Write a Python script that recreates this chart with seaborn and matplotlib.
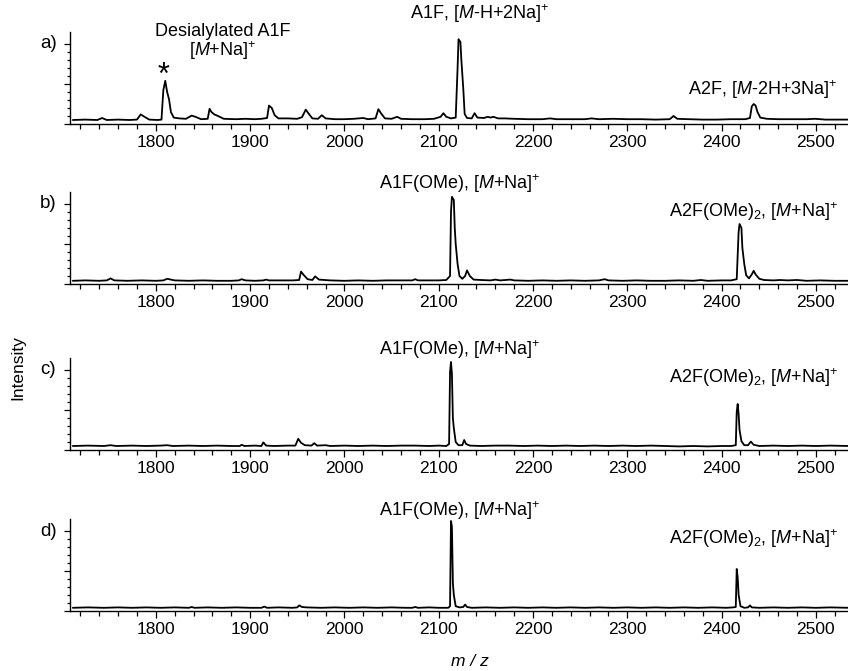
import seaborn as sns
import matplotlib.pyplot as plt
from matplotlib.ticker import MultipleLocator, FixedLocator

# a) native sample
a_mz = [1712, 1725, 1738, 1743, 1748, 1760, 1772, 1780, 1784, 1788, 1793, 1802,
        1806, 1808, 1810, 1812, 1814, 1816, 1819, 1825, 1832, 1838, 1842, 1848,
        1855, 1857, 1859, 1862, 1866, 1872, 1885, 1895, 1905, 1912, 1918, 1920,
        1923, 1926, 1930, 1940, 1950, 1955, 1959, 1962, 1966, 1972, 1976, 1980,
        1990, 2000, 2010, 2020, 2025, 2033, 2036, 2039, 2043, 2050, 2056, 2060,
        2072, 2085, 2095, 2102, 2105, 2108, 2113, 2118, 2120, 2121, 2123, 2124,
        2126, 2127.5, 2130, 2135, 2138, 2141, 2148, 2152, 2155, 2158, 2163, 2170,
        2180, 2195, 2210, 2218, 2225, 2240, 2255, 2262, 2270, 2285, 2300, 2315,
        2330, 2345, 2349, 2353, 2365, 2380, 2395, 2410, 2425, 2430, 2432, 2434,
        2436, 2438, 2441, 2448, 2460, 2475, 2490, 2499, 2510, 2525, 2535]
a_int = [0.10, 0.11, 0.10, 0.15, 0.10, 0.11, 0.10, 0.11, 0.24, 0.18, 0.11, 0.10,
         0.11, 0.85, 1.08, 0.80, 0.62, 0.30, 0.16, 0.14, 0.13, 0.21, 0.18, 0.12,
         0.13, 0.38, 0.30, 0.24, 0.20, 0.13, 0.12, 0.13, 0.12, 0.13, 0.15, 0.46,
         0.40, 0.22, 0.14, 0.14, 0.13, 0.17, 0.36, 0.26, 0.14, 0.13, 0.22, 0.14,
         0.12, 0.12, 0.13, 0.15, 0.12, 0.14, 0.37, 0.26, 0.14, 0.13, 0.18, 0.13,
         0.12, 0.12, 0.13, 0.18, 0.27, 0.18, 0.14, 0.16, 1.40, 2.12, 2.05, 1.60,
         0.90, 0.25, 0.15, 0.14, 0.27, 0.16, 0.15, 0.18, 0.16, 0.18, 0.14, 0.14,
         0.13, 0.12, 0.12, 0.14, 0.12, 0.12, 0.12, 0.14, 0.12, 0.13, 0.12, 0.12,
         0.11, 0.12, 0.20, 0.13, 0.12, 0.11, 0.11, 0.12, 0.12, 0.15, 0.44, 0.50,
         0.46, 0.30, 0.16, 0.13, 0.12, 0.12, 0.12, 0.13, 0.11, 0.11, 0.11]

# b) methyl esterified
b_mz = [1712, 1725, 1740, 1748, 1752, 1756, 1770, 1785, 1800, 1808, 1812, 1816,
        1820, 1835, 1850, 1865, 1880, 1888, 1891, 1895, 1905, 1914, 1917, 1920,
        1935, 1945, 1952, 1954, 1957, 1961, 1966, 1969, 1973, 1985, 2000, 2015,
        2030, 2045, 2060, 2072, 2075, 2078, 2090, 2100, 2108, 2112, 2113, 2114,
        2116, 2117, 2118, 2120, 2122, 2125, 2128, 2130, 2133, 2137, 2145, 2155,
        2160, 2165, 2176, 2180, 2195, 2210, 2225, 2240, 2255, 2270, 2276, 2280,
        2295, 2310, 2325, 2340, 2355, 2370, 2378, 2385, 2400, 2410, 2416, 2418,
        2419, 2421, 2422, 2424, 2426, 2429, 2432, 2434, 2436, 2440, 2445, 2455,
        2462, 2470, 2480, 2490, 2505, 2520, 2535]
b_int = [0.08, 0.09, 0.08, 0.09, 0.14, 0.09, 0.08, 0.09, 0.08, 0.09, 0.13, 0.11,
         0.09, 0.08, 0.09, 0.08, 0.08, 0.09, 0.12, 0.09, 0.08, 0.09, 0.11, 0.09,
         0.09, 0.09, 0.10, 0.31, 0.22, 0.12, 0.10, 0.19, 0.11, 0.09, 0.08, 0.09,
         0.08, 0.09, 0.09, 0.09, 0.12, 0.09, 0.09, 0.09, 0.10, 0.20, 1.80, 2.18,
         2.10, 1.40, 1.00, 0.50, 0.20, 0.13, 0.20, 0.34, 0.20, 0.11, 0.10, 0.09,
         0.11, 0.09, 0.11, 0.09, 0.08, 0.09, 0.08, 0.09, 0.08, 0.09, 0.12, 0.09,
         0.08, 0.09, 0.08, 0.08, 0.09, 0.08, 0.10, 0.08, 0.09, 0.09, 0.12, 1.30,
         1.50, 1.40, 0.90, 0.50, 0.22, 0.14, 0.24, 0.33, 0.24, 0.13, 0.10, 0.09,
         0.10, 0.09, 0.10, 0.08, 0.09, 0.08, 0.08]

# c) methyl esterified
c_mz = [1712, 1728, 1745, 1752, 1758, 1775, 1790, 1805, 1812, 1818, 1835, 1850,
        1865, 1880, 1889, 1891, 1894, 1905, 1912, 1914, 1917, 1925, 1940, 1948,
        1951, 1954, 1958, 1965, 1968, 1971, 1980, 1985, 2000, 2015, 2030, 2045,
        2060, 2075, 2090, 2100, 2108, 2111, 2112, 2113, 2114, 2115, 2116, 2118,
        2121, 2125, 2127, 2129, 2133, 2145, 2160, 2175, 2190, 2205, 2220, 2235,
        2250, 2265, 2280, 2295, 2310, 2325, 2340, 2355, 2370, 2385, 2400, 2410,
        2415, 2416, 2417, 2418, 2419, 2421, 2424, 2428, 2431, 2434, 2440, 2455,
        2470, 2485, 2500, 2515, 2535]
c_int = [0.10, 0.11, 0.10, 0.12, 0.10, 0.11, 0.10, 0.11, 0.12, 0.10, 0.11, 0.10,
         0.11, 0.10, 0.10, 0.13, 0.10, 0.11, 0.10, 0.19, 0.11, 0.10, 0.11, 0.11,
         0.28, 0.18, 0.12, 0.11, 0.17, 0.11, 0.12, 0.10, 0.11, 0.10, 0.11, 0.10,
         0.11, 0.11, 0.10, 0.11, 0.10, 0.15, 1.95, 2.20, 1.90, 0.80, 0.55, 0.20,
         0.12, 0.12, 0.25, 0.15, 0.11, 0.10, 0.11, 0.11, 0.10, 0.11, 0.10, 0.11,
         0.10, 0.11, 0.10, 0.11, 0.10, 0.11, 0.10, 0.09, 0.10, 0.09, 0.10, 0.10,
         0.12, 0.95, 1.15, 0.90, 0.50, 0.22, 0.12, 0.12, 0.21, 0.13, 0.10, 0.11,
         0.10, 0.11, 0.10, 0.11, 0.10]

# d) methyl esterified
d_mz = [1712, 1728, 1745, 1760, 1775, 1790, 1805, 1820, 1835, 1838, 1841, 1855,
        1870, 1885, 1900, 1912, 1915, 1918, 1930, 1945, 1950, 1952, 1955, 1960,
        1975, 1990, 2005, 2020, 2035, 2050, 2065, 2072, 2075, 2078, 2090, 2100,
        2110, 2112, 2113, 2114, 2115, 2116, 2118, 2122, 2126, 2128, 2130, 2135,
        2150, 2165, 2180, 2195, 2210, 2225, 2240, 2255, 2270, 2285, 2300, 2315,
        2330, 2345, 2360, 2375, 2390, 2405, 2412, 2415, 2416, 2417, 2418, 2420,
        2424, 2428, 2430, 2432, 2440, 2455, 2470, 2485, 2500, 2515, 2535]
d_int = [0.08, 0.09, 0.08, 0.09, 0.08, 0.09, 0.08, 0.09, 0.08, 0.10, 0.08, 0.09,
         0.08, 0.09, 0.08, 0.08, 0.11, 0.08, 0.09, 0.08, 0.09, 0.14, 0.10, 0.09,
         0.08, 0.09, 0.08, 0.09, 0.08, 0.09, 0.08, 0.08, 0.10, 0.08, 0.09, 0.08,
         0.08, 0.12, 2.25, 2.10, 0.70, 0.40, 0.12, 0.09, 0.10, 0.16, 0.10, 0.08,
         0.09, 0.08, 0.09, 0.08, 0.09, 0.08, 0.09, 0.08, 0.09, 0.08, 0.09, 0.08,
         0.09, 0.08, 0.09, 0.08, 0.09, 0.08, 0.09, 0.10, 1.05, 0.85, 0.40, 0.12,
         0.08, 0.09, 0.14, 0.09, 0.08, 0.09, 0.08, 0.09, 0.08, 0.09, 0.08]

panel_letters = ["a)", "b)", "c)", "d)"]
a1f_labels = [r"A1F, [$\mathit{M}$-H+2Na]$^{+}$",
              r"A1F(OMe), [$\mathit{M}$+Na]$^{+}$",
              r"A1F(OMe), [$\mathit{M}$+Na]$^{+}$",
              r"A1F(OMe), [$\mathit{M}$+Na]$^{+}$"]
a2f_labels = [r"A2F, [$\mathit{M}$-2H+3Na]$^{+}$",
              r"A2F(OMe)$_{2}$, [$\mathit{M}$+Na]$^{+}$",
              r"A2F(OMe)$_{2}$, [$\mathit{M}$+Na]$^{+}$",
              r"A2F(OMe)$_{2}$, [$\mathit{M}$+Na]$^{+}$"]

sns.set_style("ticks")
plt.rcParams['font.family'] = ['Liberation Sans', 'DejaVu Sans']
plt.rcParams['mathtext.fontset'] = 'custom'
plt.rcParams['mathtext.rm'] = 'Liberation Sans'
plt.rcParams['mathtext.it'] = 'Liberation Sans:italic'
plt.rcParams['mathtext.default'] = 'regular'
# seaborn greys the text, the figure is plain black
for key in ['text.color', 'axes.labelcolor', 'xtick.color', 'ytick.color',
            'axes.edgecolor']:
    plt.rcParams[key] = 'black'

W, H = 848, 671
fig = plt.figure(figsize=(W / 100, H / 100), dpi=100)

spectra = [(a_mz, a_int), (b_mz, b_int), (c_mz, c_int), (d_mz, d_int)]
tops = [32, 192, 358, 519]
ph = 92

for i, (mz, inten) in enumerate(spectra):
    ax = fig.add_axes([70 / W, 1 - (tops[i] + ph) / H, 778 / W, ph / H])
    sns.lineplot(x=mz, y=inten, ax=ax, color="black", lw=1.3,
                 estimator=None, sort=False)
    ax.set_xlim(1709, 2534)
    ax.set_ylim(0, ph / 40)
    ax.set_xticks(range(1800, 2501, 100))
    ax.xaxis.set_minor_locator(MultipleLocator(20))
    ax.set_yticks([0, 1, 2])
    ax.set_yticklabels([])
    ax.yaxis.set_minor_locator(FixedLocator([0.2, 0.4, 0.6, 0.8, 1.2, 1.4, 1.6, 1.8]))
    ax.tick_params(axis="x", which="major", length=5, width=0.9, labelsize=12.5,
                   pad=3, labelcolor="black")
    ax.tick_params(axis="x", which="minor", length=3.5, width=0.9)
    ax.tick_params(axis="y", which="major", length=4.5, width=0.9)
    ax.tick_params(axis="y", which="minor", length=2.5, width=0.9)
    sns.despine(ax=ax)
    for s in ["left", "bottom"]:
        ax.spines[s].set_linewidth(1.0)
    ax.set_xlabel("")
    ax.set_ylabel("")
    ax.text(-0.028, 2.0, panel_letters[i], transform=ax.get_yaxis_transform(),
            ha="center", va="center", fontsize=13.5)
    if i == 0:
        ax.text(2143, 2.75, a1f_labels[i], ha="center", va="center",
                fontsize=13, clip_on=False)
        ax.text(2444, 0.85, a2f_labels[i], ha="center", va="center",
                fontsize=13, clip_on=False)
        ax.text(1871, 2.3, "Desialylated A1F", ha="center", va="center",
                fontsize=13, clip_on=False)
        ax.text(1871, 1.83, r"[$\mathit{M}$+Na]$^{+}$", ha="center",
                va="center", fontsize=13, clip_on=False)
        ax.text(1808.5, 1.2, "*", ha="center", va="center", fontsize=22,
                clip_on=False)
    else:
        ax.text(2122, 2.52, a1f_labels[i], ha="center", va="center",
                fontsize=13, clip_on=False)
        ax.text(2434, 1.8, a2f_labels[i], ha="center", va="center",
                fontsize=13, clip_on=False)

fig.text(18 / W, 1 - 368 / H, "Intensity", rotation=90, ha="center",
         va="center", fontsize=12.5)
fig.text(470 / W, 1 - 662 / H, "m / z", style="italic", ha="center",
         va="center", fontsize=12.5)

fig.savefig("out.png", dpi=100)
